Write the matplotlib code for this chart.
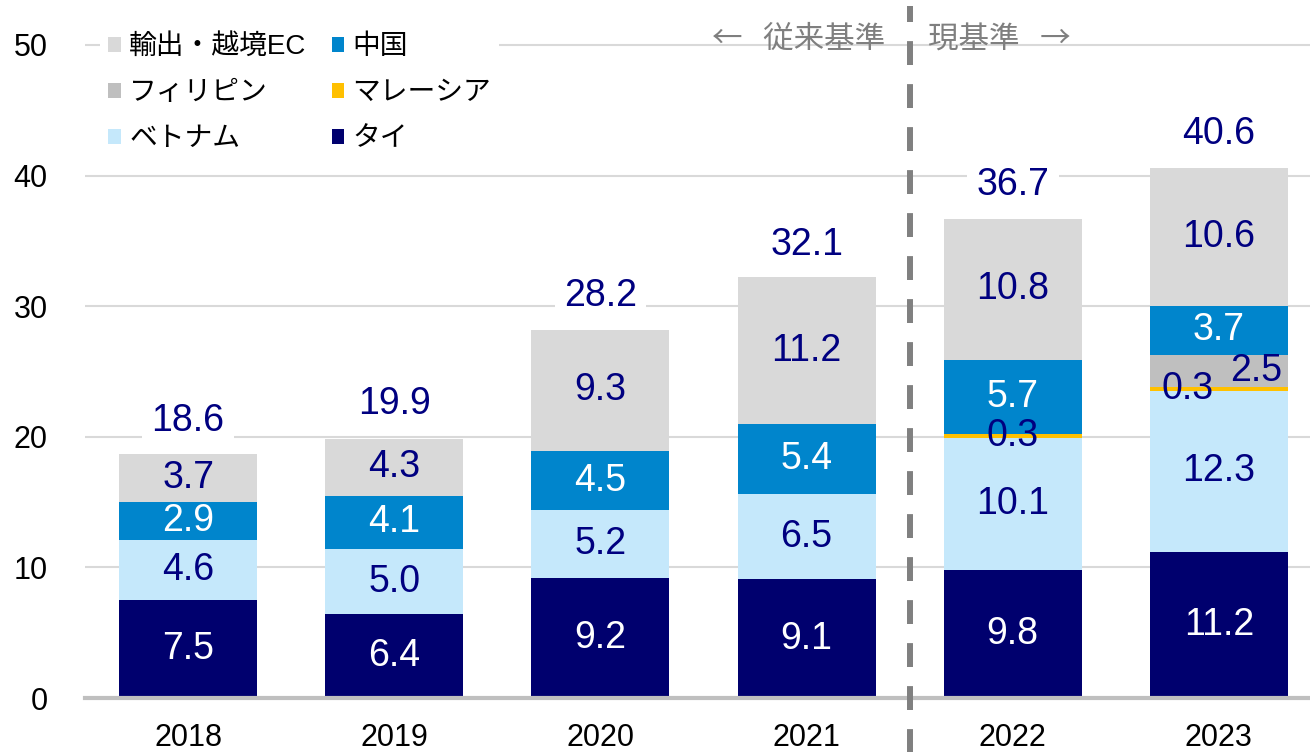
import numpy as np
import matplotlib
matplotlib.use("Agg")
import matplotlib.pyplot as plt

plt.rcParams['font.family'] = ['Liberation Sans', 'Noto Sans CJK JP', 'DejaVu Sans']

years = ['2018', '2019', '2020', '2021', '2022', '2023']
thai = [7.5, 6.4, 9.2, 9.1, 9.8, 11.2]
vietnam = [4.6, 5.0, 5.2, 6.5, 10.1, 12.3]
malaysia = [0, 0, 0, 0, 0.3, 0.3]
philippines = [0, 0, 0, 0, 0, 2.5]
china = [2.9, 4.1, 4.5, 5.4, 5.7, 3.7]
export_ec = [3.7, 4.3, 9.3, 11.2, 10.8, 10.6]
totals = [18.6, 19.9, 28.2, 32.1, 36.7, 40.6]

series = [
    ('タイ', thai, '#00006E', 'white'),
    ('ベトナム', vietnam, '#C5E8FB', '#000080'),
    ('マレーシア', malaysia, '#FFC000', '#000080'),
    ('フィリピン', philippines, '#BFBFBF', '#000080'),
    ('中国', china, '#0085CC', 'white'),
    ('輸出・越境EC', export_ec, '#D9D9D9', '#000080'),
]

W, H = 1310, 752
fig = plt.figure(figsize=(W / 100, H / 100), dpi=100)
ax = fig.add_axes([85 / W, 54 / H, 1237 / W, 53 * 13.06 / H])

x = np.arange(len(years))
bottom = np.zeros(len(years))
bars = {}
for name, vals, col, tcol in series:
    vals = np.array(vals)
    b = ax.bar(x, vals, 0.67, bottom=bottom, color=col, label=name, zorder=2)
    bars[name] = b
    for i, v in enumerate(vals):
        if v <= 0:
            continue
        dx = 0
        if name == 'マレーシア' and philippines[i] > 0:
            dx = -0.15
        if name == 'フィリピン':
            dx = 0.18
        ax.text(x[i] + dx, bottom[i] + v / 2, f'{v:.1f}', ha='center', va='center',
                color=tcol, fontsize=27, zorder=4)
    bottom += vals

for i, t in enumerate(totals):
    ax.text(x[i], t + 2.6, f'{t:.1f}', ha='center', va='center', color='#000080',
            fontsize=27, zorder=4,
            bbox=dict(boxstyle='square,pad=0.25', fc='white', ec='none'))

ax.set_xlim(-0.5, 5.5)
ax.set_ylim(0, 53)
ax.set_yticks(range(0, 51, 10))
ax.set_xticks(x)
ax.set_xticklabels(years)
ax.tick_params(axis='both', length=0, labelsize=22)
ax.tick_params(axis='y', pad=27)
ax.tick_params(axis='x', pad=18)
ax.grid(axis='y', color='#D9D9D9', lw=1.5, zorder=0)
ax.set_axisbelow(True)
for s in ['left', 'right', 'top']:
    ax.spines[s].set_visible(False)
ax.spines['bottom'].set_color('#BFBFBF')
ax.spines['bottom'].set_linewidth(3)
ax.spines['bottom'].set_zorder(3)

# divider between old / new basis
ax.plot([3.5, 3.5], [-5, 53], color='#808080', lw=4.3, dashes=(4, 3.2),
        clip_on=False, zorder=5)
cjk = ['Noto Sans CJK JP', 'DejaVu Sans']
ax.text(3.38, 50.4, '←   従来基準', ha='right', va='center', color='#7F7F7F',
        fontsize=22, family=cjk)
ax.text(3.59, 50.4, '現基準   →', ha='left', va='center', color='#7F7F7F',
        fontsize=22, family=cjk)

order = ['輸出・越境EC', 'フィリピン', 'ベトナム', '中国', 'マレーシア', 'タイ']
leg = ax.legend([bars[n] for n in order], order, ncol=2, loc='upper left',
                bbox_to_anchor=(100 / W, 1 - 26 / H), bbox_transform=fig.transFigure,
                fontsize=20, frameon=True, fancybox=False, edgecolor='none',
                framealpha=1, handlelength=0.45, handleheight=0.45, handletextpad=0.3,
                columnspacing=0.9, labelspacing=0.72, borderpad=0.3, borderaxespad=0)
leg.set_zorder(6)

fig.savefig('out.png', dpi=100)
